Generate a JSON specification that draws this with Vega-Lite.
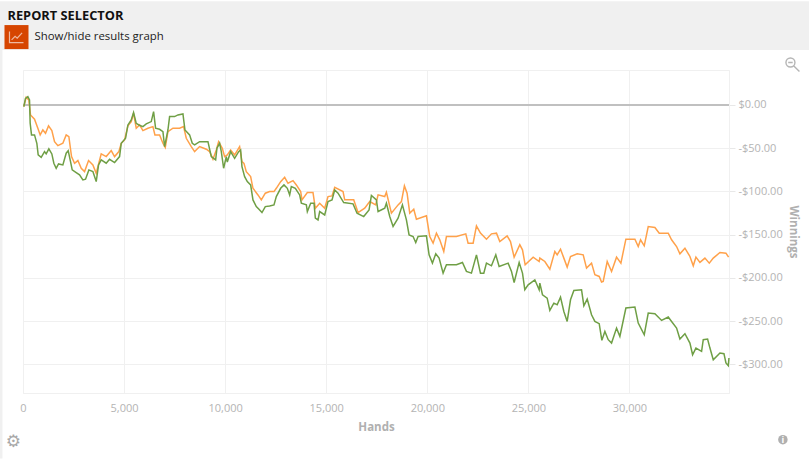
{
  "$schema": "https://vega.github.io/schema/vega-lite/v6.json",
  "width": 706, "height": 323,
  "autosize": {"type": "none"},
  "padding": {"left": 23, "top": 70, "right": 80, "bottom": 66},
  "background": "white",
  "config": {"font": "Open Sans", "view": {"stroke": "#f0f0f0"}},
  "encoding": {
    "x": {
      "field": "hands", "type": "quantitative",
      "scale": {"domain": [0, 34925], "nice": false, "zero": false},
      "axis": {
        "title": "Hands", "values": [0, 5000, 10000, 15000, 20000, 25000, 30000], "format": ",.0f",
        "grid": true, "gridColor": "#f0f0f0", "domainColor": "#f0f0f0", "ticks": false, "labelFlush": false,
        "labelColor": "#b4b4b4", "labelFontSize": 11, "labelPadding": 9, "titleColor": "#b0b0b0",
        "titleFontSize": 11.5, "titleFontWeight": "bold", "titlePadding": 8
      }
    },
    "y": {
      "field": "winnings", "type": "quantitative",
      "scale": {"domain": [-333.3, 40.5], "nice": false, "zero": false},
      "axis": {
        "title": "Winnings", "orient": "right", "values": [0, -50, -100, -150, -200, -250, -300],
        "labelExpr": "(datum.value < 0 ? '-' : '') + '$' + format(abs(datum.value), '.2f')",
        "grid": true, "gridColor": "#f0f0f0", "domainColor": "#f0f0f0", "tickColor": "#e8e8e8", "tickSize": 6,
        "labelColor": "#b4b4b4", "labelFontSize": 11, "labelPadding": 3, "titleColor": "#b0b0b0",
        "titleFontSize": 11.5, "titleFontWeight": "bold", "titlePadding": 5
      }
    }
  },
  "layer": [
    {
      "data": {"values": [
        {"hands": -1163, "hands2": 38883, "winnings": 120.2, "winnings2": 63.6},
        {"hands": -1163, "hands2": -1015, "winnings": 63.6, "winnings2": -409}
      ]},
      "mark": {"type": "rect", "color": "#f0f0f0"},
      "encoding": {"x2": {"field": "hands2"}, "y2": {"field": "winnings2"}}
    },
    {
      "data": {"values": [{"hands": -916, "hands2": 272, "winnings": 92.5, "winnings2": 64.7}]},
      "mark": {"type": "rect", "color": "#d64500"},
      "encoding": {"x2": {"field": "hands2"}, "y2": {"field": "winnings2"}}
    },
    {
      "data": {"values": [{"hands": -322, "winnings": 78.6}]},
      "mark": {"type": "point", "shape": "M-1,-.8 V.8 H1 M-.7,.4 L-.2,-.1 L.1,.15 L.8,-.6", "size": 196, "filled": false, "stroke": "#eeb9a0", "strokeWidth": 1.2, "opacity": 1}
    },
    {
      "data": {"values": [{"hands": -767, "winnings": 102.9, "label": "REPORT SELECTOR"}]},
      "mark": {"type": "text", "align": "left", "fontSize": 12.8, "fontWeight": "bold", "color": "#111111"},
      "encoding": {"text": {"field": "label"}}
    },
    {
      "data": {"values": [{"hands": 569, "winnings": 78.6, "label": "Show/hide results graph"}]},
      "mark": {"type": "text", "align": "left", "fontSize": 11.4, "color": "#222222"},
      "encoding": {"text": {"field": "label"}}
    },
    {
      "data": {"values": [{"hands": 38039, "winnings": 47.4}]},
      "mark": {"type": "point", "shape": "M.4,-.2 A.6,.6 0 1 1 -.8,-.2 A.6,.6 0 1 1 .4,-.2 M.25,.25 L1,1 M-.5,-.2 H.1", "size": 225, "filled": false, "stroke": "#b5b5b5", "strokeWidth": 1.4, "opacity": 1}
    },
    {
      "data": {"values": [{"hands": -470, "winnings": -389.5, "label": "⚙"}]},
      "mark": {"type": "text", "font": "DejaVu Sans", "fontSize": 17, "fontWeight": "bold", "color": "#a8a8a8"},
      "encoding": {"text": {"field": "label"}}
    },
    {
      "data": {"values": [{"hands": 37591, "winnings": -387.3}]},
      "mark": {"type": "point", "shape": "circle", "size": 90, "filled": true, "color": "#b0b0b0", "opacity": 1}
    },
    {
      "data": {"values": [{"hands": 37591, "winnings": -387.3, "label": "i"}]},
      "mark": {"type": "text", "fontSize": 9, "fontWeight": "bold", "color": "white"},
      "encoding": {"text": {"field": "label"}}
    },
    {
      "data": {"values": [{"hands": 0, "hands2": 34925, "winnings": 0}]},
      "mark": {"type": "rule", "color": "#c0c0c0", "strokeWidth": 2},
      "encoding": {"x2": {"field": "hands2"}}
    },
    {
      "data": {"values": [
        {"hands":41,"winnings":-1.9},{"hands":157,"winnings":8.9},{"hands":289,"winnings":5.8},{"hands":371,"winnings":-11.5},{"hands":570,"winnings":-16.5},{"hands":735,"winnings":-26.9},{"hands":850,"winnings":-34.6},{"hands":982,"winnings":-28.9},{"hands":1114,"winnings":-32.7},{"hands":1263,"winnings":-24.2},{"hands":1427,"winnings":-29.6},{"hands":1560,"winnings":-42.4},{"hands":1725,"winnings":-47},{"hands":1972,"winnings":-44.3},{"hands":2137,"winnings":-34.6},{"hands":2269,"winnings":-36.6},{"hands":2401,"winnings":-59.7},{"hands":2550,"winnings":-67.4},{"hands":2715,"winnings":-64.3},{"hands":2880,"winnings":-73.2},{"hands":3045,"winnings":-77},{"hands":3243,"winnings":-64.3},{"hands":3457,"winnings":-69.3},{"hands":3622,"winnings":-79},{"hands":3869,"winnings":-56.6},{"hands":4117,"winnings":-59.7},{"hands":4365,"winnings":-52.8},{"hands":4530,"winnings":-59.7},{"hands":4744,"winnings":-53.9},{"hands":4860,"winnings":-44.3},{"hands":5025,"winnings":-40.4},{"hands":5190,"winnings":-24.2},{"hands":5355,"winnings":-19.2},{"hands":5470,"winnings":-9.6},{"hands":5602,"winnings":-26.9},{"hands":5767,"winnings":-23.1},{"hands":5932,"winnings":-29.6},{"hands":6180,"winnings":-26.9},{"hands":6427,"winnings":-25},{"hands":6526,"winnings":-34.6},{"hands":6757,"winnings":-34.6},{"hands":6922,"winnings":-44.3},{"hands":7038,"winnings":-49.3},{"hands":7170,"winnings":-30.8},{"hands":7417,"winnings":-26.9},{"hands":7747,"winnings":-26.9},{"hands":7945,"winnings":-25},{"hands":8077,"winnings":-38.5},{"hands":8325,"winnings":-48.1},{"hands":8490,"winnings":-53.9},{"hands":8737,"winnings":-48.1},{"hands":9067,"winnings":-51.2},{"hands":9232,"winnings":-53.9},{"hands":9397,"winnings":-62.8},{"hands":9562,"winnings":-52},{"hands":9677,"winnings":-42.4},{"hands":9859,"winnings":-50},
        {"hands":9974,"winnings":-59.8},{"hands":10106,"winnings":-57.8},{"hands":10271,"winnings":-52},{"hands":10469,"winnings":-57.8},{"hands":10716,"winnings":-48.2},{"hands":10832,"winnings":-65.5},{"hands":10931,"winnings":-67.5},{"hands":11046,"winnings":-77.1},{"hands":11261,"winnings":-82.9},{"hands":11376,"winnings":-96.4},{"hands":11624,"winnings":-104.1},{"hands":11789,"winnings":-109.9},{"hands":11987,"winnings":-102.1},{"hands":12201,"winnings":-100.2},{"hands":12416,"winnings":-100.2},{"hands":12531,"winnings":-96.4},{"hands":12746,"winnings":-88.7},{"hands":12944,"winnings":-83.7},{"hands":13109,"winnings":-90.6},{"hands":13357,"winnings":-87.5},{"hands":13522,"winnings":-92.5},{"hands":13736,"winnings":-100.2},{"hands":13802,"winnings":-109.9},{"hands":14066,"winnings":-101.4},{"hands":14346,"winnings":-101.4},{"hands":14462,"winnings":-119.5},{"hands":14677,"winnings":-113.7},{"hands":14924,"winnings":-119.5},{"hands":15089,"winnings":-106},{"hands":15287,"winnings":-105.2},{"hands":15420,"winnings":-95.2},
        {"hands":15832,"winnings":-100.2},{"hands":15915,"winnings":-109.8},{"hands":16360,"winnings":-109.8},{"hands":16574,"winnings":-124.5},{"hands":16904,"winnings":-119.4},{"hands":17152,"winnings":-111.7},{"hands":17449,"winnings":-115.6},{"hands":17565,"winnings":-104},{"hands":17895,"winnings":-106},{"hands":17977,"winnings":-101},{"hands":18225,"winnings":-125.2},{"hands":18555,"winnings":-115.6},{"hands":18720,"winnings":-111.7},{"hands":18868,"winnings":-93.6},{"hands":19000,"winnings":-102.1},{"hands":19132,"winnings":-125.2},{"hands":19330,"winnings":-120.6},{"hands":19462,"winnings":-132.2},{"hands":19957,"winnings":-128.3},{"hands":20122,"winnings":-152.2},{"hands":20287,"winnings":-159.9},{"hands":20452,"winnings":-148.3},{"hands":20617,"winnings":-156},{"hands":20815,"winnings":-169.5},{"hands":20947,"winnings":-152.2},{"hands":21442,"winnings":-152.2},{"hands":21904,"winnings":-149.1},{"hands":22019,"winnings":-159.9},{"hands":22267,"winnings":-159.9},{"hands":22432,"winnings":-139.9},{"hands":22630,"winnings":-148.3},{"hands":22927,"winnings":-155.3},{"hands":23174,"winnings":-149.1},{"hands":23422,"winnings":-148.3},{"hands":23587,"winnings":-158},{"hands":23950,"winnings":-151.4},{"hands":24115,"winnings":-158},{"hands":24296,"winnings":-176.1},{"hands":24577,"winnings":-161.8},{"hands":24709,"winnings":-167.6},{"hands":24841,"winnings":-184.9},{"hands":25237,"winnings":-176.1},{"hands":25534,"winnings":-181.1},
        {"hands":25567,"winnings":-177.2},{"hands":25815,"winnings":-181.1},{"hands":26062,"winnings":-190},{"hands":26310,"winnings":-169.5},{"hands":26425,"winnings":-173.4},{"hands":26590,"winnings":-166.8},{"hands":26755,"winnings":-177.2},{"hands":26920,"winnings":-187.6},{"hands":27085,"winnings":-175.3},{"hands":27415,"winnings":-172.2},{"hands":27712,"winnings":-173.4},{"hands":27877,"winnings":-188.8},{"hands":28125,"winnings":-183},{"hands":28290,"winnings":-196.5},{"hands":28504,"winnings":-198.4},{"hands":28620,"winnings":-205},{"hands":28702,"winnings":-204.2},{"hands":28900,"winnings":-181.1},{"hands":29115,"winnings":-192.7},{"hands":29362,"winnings":-176.1},{"hands":29577,"winnings":-183},{"hands":29824,"winnings":-155.3},{"hands":30270,"winnings":-155.3},{"hands":30435,"winnings":-163.8},{"hands":30550,"winnings":-156},{"hands":30732,"winnings":-163},{"hands":30930,"winnings":-140.6},{"hands":31260,"winnings":-141.8},{"hands":31474,"winnings":-148.3},{"hands":31920,"winnings":-148.3},{"hands":32085,"winnings":-156},{"hands":32332,"winnings":-163.8},{"hands":32497,"winnings":-172.2},{"hands":32745,"winnings":-165.7},{"hands":32992,"winnings":-175.3},{"hands":33157,"winnings":-186.1},{"hands":33289,"winnings":-176.1},{"hands":33487,"winnings":-182.2},{"hands":33734,"winnings":-177.2},{"hands":33949,"winnings":-183},{"hands":34147,"winnings":-177.2},{"hands":34477,"winnings":-170.7},{"hands":34774,"winnings":-171.5},{"hands":34906,"winnings":-176.1}
      ]},
      "mark": {"type": "line", "color": "#ffa14a", "strokeWidth": 1.5}
    },
    {
      "data": {"values": [
        {"hands":41,"winnings":-1.9},{"hands":123,"winnings":7.7},{"hands":240,"winnings":9.7},{"hands":322,"winnings":5.8},{"hands":355,"winnings":-21.2},{"hands":421,"winnings":-34.6},{"hands":570,"winnings":-34.6},{"hands":685,"winnings":-44.3},{"hands":751,"winnings":-57.8},{"hands":900,"winnings":-60.5},{"hands":1065,"winnings":-53.9},{"hands":1147,"winnings":-56.6},{"hands":1279,"winnings":-50.8},{"hands":1427,"winnings":-56.6},{"hands":1526,"winnings":-67.4},{"hands":1642,"winnings":-73.2},{"hands":1758,"winnings":-68.2},{"hands":1972,"winnings":-69.3},{"hands":2137,"winnings":-55.8},{"hands":2236,"winnings":-52.8},{"hands":2351,"winnings":-65.5},{"hands":2434,"winnings":-75.1},{"hands":2632,"winnings":-78.2},{"hands":2797,"winnings":-80.9},{"hands":2962,"winnings":-86.7},{"hands":3094,"winnings":-85.9},{"hands":3259,"winnings":-75.1},{"hands":3457,"winnings":-77},{"hands":3622,"winnings":-88.6},{"hands":3737,"winnings":-69.3},{"hands":3869,"winnings":-63.5},{"hands":4117,"winnings":-67.4},{"hands":4282,"winnings":-62.8},{"hands":4530,"winnings":-66.6},{"hands":4777,"winnings":-59.7},{"hands":4860,"winnings":-44.3},{"hands":5074,"winnings":-38.5},{"hands":5190,"winnings":-23.1},{"hands":5355,"winnings":-17.3},{"hands":5470,"winnings":-8.8},{"hands":5602,"winnings":-21.2},{"hands":5734,"winnings":-23.1},{"hands":5932,"winnings":-25},{"hands":6097,"winnings":-21.9},{"hands":6345,"winnings":-19.2},{"hands":6460,"winnings":-7.7},{"hands":6559,"winnings":-26.9},{"hands":6757,"winnings":-28.1},{"hands":6922,"winnings":-30.8},{"hands":7005,"winnings":-48.1},{"hands":7170,"winnings":-28.9},{"hands":7252,"winnings":-13.4},{"hands":7500,"winnings":-13.4},{"hands":7665,"winnings":-11.5},{"hands":7912,"winnings":-10.4},{"hands":8011,"winnings":-28.9},{"hands":8242,"winnings":-34.6},{"hands":8374,"winnings":-44.3},{"hands":8490,"winnings":-46.2},{"hands":8737,"winnings":-42.4},{"hands":9149,"winnings":-42.4},{"hands":9315,"winnings":-59.7},{"hands":9529,"winnings":-63.5},{"hands":9595,"winnings":-50},{"hands":9727,"winnings":-44.3},{"hands":9810,"winnings":-53.9},{"hands":9925,"winnings":-73.2},{"hands":10057,"winnings":-59.7},{"hands":10106,"winnings":-66},
        {"hands":10271,"winnings":-54},{"hands":10469,"winnings":-61.7},{"hands":10667,"winnings":-54},{"hands":10766,"winnings":-52.1},{"hands":10832,"winnings":-71.3},{"hands":10964,"winnings":-82.9},{"hands":11096,"winnings":-88.7},{"hands":11261,"winnings":-92.5},{"hands":11376,"winnings":-109.9},{"hands":11541,"winnings":-117.6},{"hands":11673,"winnings":-120.6},{"hands":11822,"winnings":-124.5},{"hands":11987,"winnings":-117.6},{"hands":12201,"winnings":-116.8},{"hands":12416,"winnings":-115.6},{"hands":12531,"winnings":-106},{"hands":12746,"winnings":-96.4},{"hands":12911,"winnings":-92.5},{"hands":13076,"winnings":-96.4},{"hands":13191,"winnings":-104.1},{"hands":13274,"winnings":-94.4},{"hands":13472,"winnings":-96.4},{"hands":13686,"winnings":-104.1},{"hands":13769,"winnings":-113.7},{"hands":14017,"winnings":-115.6},{"hands":14066,"winnings":-123.3},{"hands":14231,"winnings":-113.7},{"hands":14396,"winnings":-113.7},{"hands":14462,"winnings":-131},{"hands":14594,"winnings":-133},{"hands":14677,"winnings":-123.3},{"hands":14924,"winnings":-127.2},{"hands":15089,"winnings":-111.8},{"hands":15287,"winnings":-109.9},{"hands":15420,"winnings":-98.3},
        {"hands":15585,"winnings":-102.1},{"hands":15865,"winnings":-112.9},{"hands":16327,"winnings":-114.4},{"hands":16525,"winnings":-125.2},{"hands":16855,"winnings":-129.1},{"hands":17119,"winnings":-121.4},{"hands":17235,"winnings":-104.8},{"hands":17482,"winnings":-109.8},{"hands":17565,"winnings":-123.3},{"hands":17895,"winnings":-119.4},{"hands":17977,"winnings":-113.7},{"hands":18142,"winnings":-129.1},{"hands":18307,"winnings":-140.6},{"hands":18555,"winnings":-131},{"hands":18769,"winnings":-115.6},{"hands":18967,"winnings":-132.9},{"hands":19099,"winnings":-150.3},{"hands":19297,"winnings":-152.2},{"hands":19429,"winnings":-159.1},{"hands":19544,"winnings":-152.2},{"hands":19957,"winnings":-151.4},{"hands":20089,"winnings":-173.4},{"hands":20254,"winnings":-183},{"hands":20419,"winnings":-172.2},{"hands":20584,"winnings":-177.2},{"hands":20782,"winnings":-194.6},{"hands":20947,"winnings":-184.9},{"hands":21442,"winnings":-184.9},{"hands":21739,"winnings":-182.2},{"hands":21937,"winnings":-192.6},{"hands":22184,"winnings":-194.6},{"hands":22432,"winnings":-173.4},{"hands":22630,"winnings":-194.6},{"hands":22795,"winnings":-194.6},{"hands":22927,"winnings":-183},{"hands":23174,"winnings":-186.1},{"hands":23389,"winnings":-173.4},{"hands":23554,"winnings":-186.9},{"hands":24000,"winnings":-183},{"hands":24165,"winnings":-192.6},{"hands":24296,"winnings":-205.4},{"hands":24544,"winnings":-182.2},{"hands":24709,"winnings":-194.6},{"hands":24825,"winnings":-213.8},{"hands":24990,"winnings":-208.1},{"hands":25320,"winnings":-202.3},{"hands":25534,"winnings":-213.8},
        {"hands":25567,"winnings":-206.1},{"hands":25699,"winnings":-219.6},{"hands":25930,"winnings":-223.5},{"hands":26062,"winnings":-237.7},{"hands":26260,"winnings":-229.3},{"hands":26425,"winnings":-231.2},{"hands":26590,"winnings":-222.3},{"hands":26755,"winnings":-238.9},{"hands":26920,"winnings":-250.5},{"hands":27085,"winnings":-225.4},{"hands":27250,"winnings":-214.6},{"hands":27630,"winnings":-213.8},{"hands":27745,"winnings":-232.3},{"hands":27910,"winnings":-224.6},{"hands":28125,"winnings":-242.7},{"hands":28290,"winnings":-250.5},{"hands":28504,"winnings":-253.1},{"hands":28636,"winnings":-272.4},{"hands":28785,"winnings":-262},{"hands":28950,"winnings":-271.6},{"hands":29115,"winnings":-275.5},{"hands":29362,"winnings":-258.2},{"hands":29527,"winnings":-267.8},{"hands":29824,"winnings":-235},{"hands":30270,"winnings":-233.9},{"hands":30435,"winnings":-252.4},{"hands":30732,"winnings":-265.9},{"hands":30930,"winnings":-240.8},{"hands":31260,"winnings":-241.6},{"hands":31590,"winnings":-249.3},{"hands":31920,"winnings":-245.4},{"hands":32085,"winnings":-250.5},{"hands":32332,"winnings":-258.2},{"hands":32497,"winnings":-270.9},{"hands":32745,"winnings":-264.7},{"hands":32992,"winnings":-275.5},{"hands":33124,"winnings":-289},{"hands":33289,"winnings":-281.3},{"hands":33569,"winnings":-285.1},{"hands":33652,"winnings":-271.6},{"hands":33866,"winnings":-270.9},{"hands":33982,"winnings":-281.3},{"hands":34147,"winnings":-294.8},{"hands":34477,"winnings":-287},{"hands":34675,"winnings":-287.8},{"hands":34774,"winnings":-298.6},{"hands":34890,"winnings":-301.7},{"hands":34923,"winnings":-292.8}
      ]},
      "mark": {"type": "line", "color": "#6f9f45", "strokeWidth": 1.5}
    }
  ]
}
